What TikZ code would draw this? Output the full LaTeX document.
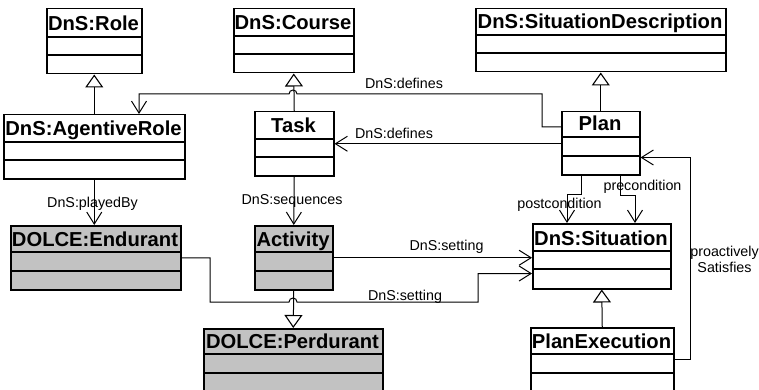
\documentclass[tikz,border=0pt]{standalone}
\usepackage{fontspec}
\setmainfont{Liberation Sans}
\usetikzlibrary{arrows.meta,calc}

\tikzset{
  classbox/.style={draw, line width=1.5pt, inner sep=0pt, anchor=north west},
  classtitle/.style={font=\fontsize{20.2}{22}\selectfont\bfseries, inner sep=0pt, anchor=base},
  rule/.style={line width=1.2pt},
  assoc/.style={line width=1pt, -{Straight Barb[length=12pt,width=15pt,line width=1pt]}},
  gen/.style={line width=1pt, -{Triangle[open,length=13pt,width=18pt,line width=1.1pt,fill=white]}},
  lbl/.style={font=\fontsize{14.3}{16}\selectfont, inner sep=0pt, anchor=base},
}
\colorlet{dolce}{black!24}

% class box: name, left, top, right, title rule, middle rule, bottom, title, fill
\newcommand\classbox[9]{%
  \node[classbox, fill=#9, minimum width={(#4-#2)*1pt}, minimum height={(#7-#3)*1pt}] (#1) at (#2,#3) {};
  \draw[rule] (#2,#5) -- (#4,#5) (#2,#6) -- (#4,#6);
  \node[classtitle] (#1-title) at ({(#2+#4)/2},{#5-6}) {#8};
}

\begin{document}
\begin{tikzpicture}[x=1pt,y=-1pt]
\useasboundingbox (0,0) rectangle (759,390);
\clip (0,0) rectangle (759,390);

% classes
\classbox{role}{46}{8}{141}{37}{55}{73}{DnS:Role}{white}
\classbox{course}{233}{8}{353}{36}{54}{72}{DnS:Course}{white}
\classbox{sitdesc}{475}{8}{725}{35}{53}{71}{DnS:SituationDescription}{white}
\classbox{agrole}{3}{114}{184}{142}{160}{178}{DnS:AgentiveRole}{white}
\classbox{task}{254}{111}{333}{139}{157}{175}{Task}{white}
\classbox{plan}{561}{111}{639}{137}{156}{174}{Plan}{white}
\classbox{endurant}{10}{225}{180}{252}{271}{289}{DOLCE:Endurant}{dolce}
\classbox{activity}{254}{225}{332}{252}{271}{289}{Activity}{dolce}
\classbox{situation}{532}{223}{670}{251}{269}{288}{DnS:Situation}{white}
\classbox{perdurant}{203}{328}{382}{354}{373}{396}{DOLCE:Perdurant}{dolce}
\classbox{planexec}{530}{327}{673}{354}{373}{396}{PlanExecution}{white}

% generalizations
\draw[gen] (agrole.north) -- (role.south);
\draw[gen] (task.north) -- (course.south);
\draw[gen] (plan.north) -- (sitdesc.south);
\draw[gen] (planexec.north) -- (situation.south);
\draw[gen] (activity.south) -- (perdurant.north);

% associations
\coordinate (defA) at (139,94);
\draw[assoc] ($(plan.north west)+(0,16)$) -| (542,94) -- (297,94)
  arc[start angle=0, end angle=-180, radius=4] -- (defA) -- (defA |- agrole.north);
\node[lbl] (defines1) at (404,89) {DnS:defines};

\draw[assoc] (plan.west |- task.east) -- (task.east);
\node[lbl] (defines2) at (394,139) {DnS:defines};

\draw[assoc] (agrole.south) -- (agrole.south |- endurant.north);
\node[lbl] (playedby) at (92.5,207) {DnS:playedBy};

\draw[assoc] (task.south) -- (activity.north);
\node[lbl] (sequences) at (292,204) {DnS:sequences};

\draw[assoc] (activity.east) -- (activity.east -| situation.west);
\node[lbl] (setting1) at (446.5,250) {DnS:setting};

\draw[assoc] (endurant.east) -| (210,302) -- (289,302)
  arc[start angle=180, end angle=360, radius=4] -- (478,302)
  |- ($(situation.south west)+(0,-16)$);
\node[lbl] (setting2) at (405,300) {DnS:setting};

\draw[assoc] ($(plan.south west)+(20,0)$) -- ++(0,19) -| ($(situation.north west)+(35,0)$);
\node[lbl] (post) at (559.5,208) {postcondition};

\draw[assoc] ($(plan.south west)+(59,0)$) -- ++(0,20) -| ($(situation.north west)+(103,0)$);
\node[lbl] (pre) at (642.5,190) {precondition};

\draw[assoc] ($(planexec.north east)+(0,32)$) -- ++(16,0) |- ($(plan.south east)+(0,-18)$);
\node[lbl, align=center, anchor=north] (proact) at (724.5,246) {proactively\\Satisfies};
\end{tikzpicture}
\end{document}
